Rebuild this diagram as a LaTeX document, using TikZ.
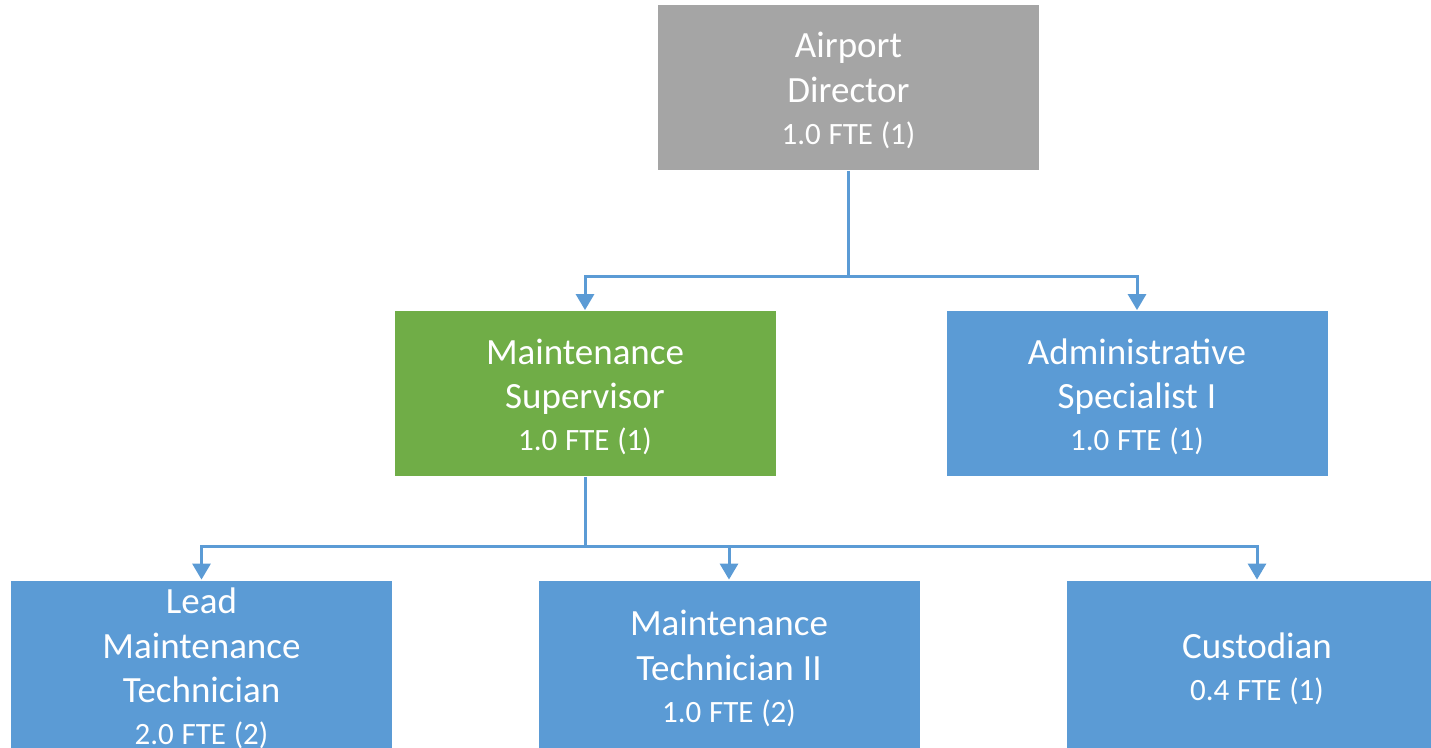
\documentclass[tikz,border=0pt]{standalone}
\usepackage{fontspec}
\setmainfont{Carlito}
\usetikzlibrary{arrows.meta}
\definecolor{boxgray}{HTML}{A5A5A5}
\definecolor{boxgreen}{HTML}{70AD47}
\definecolor{boxblue}{HTML}{5B9BD5}
\definecolor{linkblue}{HTML}{5B9BD5}
% job title (large) and staffing line (smaller)
\newcommand{\roletitle}[1]{{\fontsize{37bp}{44.5bp}\selectfont\spaceskip=0.25em\relax #1\par}}
\newcommand{\roleftes}[1]{{\fontsize{31bp}{42bp}\selectfont\spaceskip=0.25em\relax #1\par}}
\tikzset{
  role/.style={minimum width=382bp, minimum height=166bp, inner sep=0pt,
    draw=white, line width=0.8bp},
  lowrole/.style={role, minimum height=176bp},
  roletext/.style={inner sep=0pt, text=white, align=center, text width=370bp},
  link/.style={draw=linkblue, line width=3bp},
  linkto/.style={link, -{Triangle[width=18bp,length=16bp]}},
}
\begin{document}
\begin{tikzpicture}[x=1bp,y=-1bp]
\useasboundingbox (0,0) rectangle (1431,747);
% top level
\node[role, fill=boxgray] (dir) at (848.5,87.5) {};
\node[roletext] (dirtext) at ([yshift=-3bp]dir.center)
  {\roletitle{Airport\\Director}\roleftes{1.0 FTE (1)}};
% second level
\node[role, fill=boxgreen] (sup) at (585,393.5) {};
\node[roletext] (suptext) at ([yshift=-3.5bp]sup.center)
  {\roletitle{Maintenance\\Supervisor}\roleftes{1.0 FTE (1)}};
\node[role, fill=boxblue] (adm) at (1137,393.5) {};
\node[roletext] (admtext) at ([yshift=-3.5bp]adm.center)
  {\roletitle{Administrative\\Specialist I}\roleftes{1.0 FTE (1)}};
% third level (boxes run past the lower edge)
\node[lowrole, fill=boxblue] (lead) at (201.5,668) {};
\node[roletext] (leadtext) at ([yshift=-0.5bp]lead.center)
  {\roletitle{Lead\\Maintenance\\Technician}\roleftes{2.0 FTE (2)}};
\node[lowrole, fill=boxblue] (tech) at (729,668) {};
\node[roletext] (techtext) at ([yshift=-0.5bp]tech.center)
  {\roletitle{Maintenance\\Technician II}\roleftes{1.0 FTE (2)}};
\node[lowrole, fill=boxblue] (cust) at (1257,668) {};
\node[roletext] (custtext) at ([yshift=-0.5bp]cust.center)
  {\roletitle{Custodian}\roleftes{0.4 FTE (1)}};
% reporting lines
\coordinate (busA) at (848.5,276);
\coordinate (busB) at (585,546);
\draw[link] (dir.south) -- (busA);
\draw[linkto] (busA) -| (sup.north);
\draw[linkto] (busA) -| (adm.north);
\draw[link] (sup.south) -- (busB);
\draw[linkto] (busB) -| (lead.north);
\draw[linkto] (busB) -| (tech.north);
\draw[linkto] (busB) -| (cust.north);
\end{tikzpicture}
\end{document}
